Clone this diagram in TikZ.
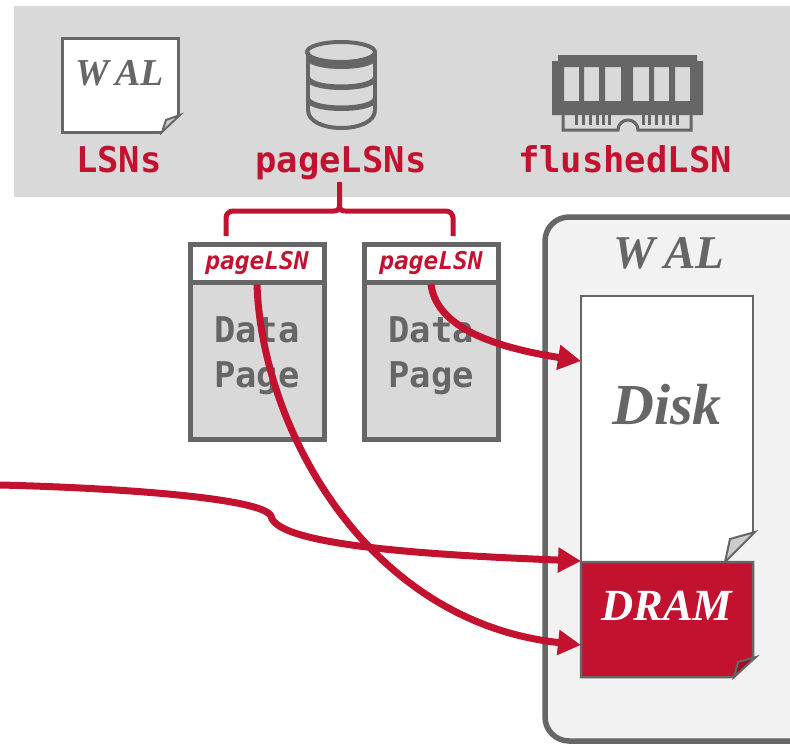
\documentclass[tikz,border=0pt]{standalone}
\usepackage{fontspec}
\usetikzlibrary{arrows.meta}
\setmainfont{Liberation Serif}
\newfontfamily\monob{DejaVu Sans Mono}
\definecolor{crim}{HTML}{C21230}
\definecolor{gline}{HTML}{666666}
\definecolor{gfill}{HTML}{D9D9D9}
\definecolor{panel}{HTML}{F2F2F2}
\definecolor{foldg}{HTML}{CCCCCC}
\definecolor{foldr}{HTML}{9E0E27}
\newcommand{\fsz}[2]{\fontsize{#1}{#2}\selectfont}
\tikzset{
  x=1pt,y=-1pt,
  monolabel/.style={text=crim,font=\monob\bfseries\fsz{35.5}{36},inner sep=0pt,anchor=base},
  walfont/.style={text=gline,font=\bfseries\itshape\fsz{#1}{#1},inner sep=0pt,anchor=base},
  hdrbox/.style={draw=gline,line width=5pt,fill=white,minimum width=134pt,minimum height=38pt,inner sep=0pt,text=crim,
     font=\monob\bfseries\itshape\fsz{24.5}{25}},
  bodybox/.style={draw=gline,line width=5pt,fill=gfill,minimum width=134pt,minimum height=157pt,inner sep=0pt},
  bodytext/.style={text=gline,inner sep=0pt,align=center,font=\monob\bfseries\fsz{35.5}{45}},
  redline/.style={draw=crim,line width=7pt,-{Triangle[length=23pt,width=24pt]}},
  docline/.style={draw=gline,line width=2.5pt,line join=miter},
  dbline/.style={draw=gline,line width=4pt},
  dbband/.style={draw=gline,line width=5.5pt},
}
\begin{document}
\begin{tikzpicture}
\path[use as bounding box,fill=white] (0,0) rectangle (790,744);
\begin{scope}
\clip (0,0) rectangle (790,744);
\fill[gfill] (14,6) rectangle (790,197);
\draw[draw=gline,fill=panel,line width=5.5pt,rounded corners=24pt] (545,217) rectangle (815,741);
\end{scope}

% small WAL document icon
\fill[white] (62,38) -- (177,38) -- (177,115) -- (162,132) -- (62,132) -- cycle;
\draw[docline,line width=3pt] (178,115) -- (178,38) -- (62,38) -- (62,132) -- (162,132);
\draw[docline,fill=foldg,line width=2pt] (162,132) -- (166,120) -- (180,115) -- cycle;
\node[walfont=38] (walsmall) at (120,85) {W\kern6pt AL};

% database icon
\draw[dbline] (341,52) ellipse[x radius=34,y radius=10];
\draw[dbline] (308,52) -- (308,110) (375,52) -- (375,110);
\draw[dbline] (308,110) .. controls (308,134) and (375,134) .. (375,110);
\draw[dbband] (308,58) .. controls (314,69) and (369,69) .. (375,58);
\draw[dbband] (308,79) .. controls (314,90) and (369,90) .. (375,79);
\draw[dbband] (308,100) .. controls (314,111) and (369,111) .. (375,100);

% RAM icon
\fill[gline,even odd rule]
  (552,61) -- (558,61) -- (558,55) -- (697,55) -- (697,61) -- (703,61) -- (703,115) -- (552,115) -- cycle
  (564,67) rectangle (579,101) (584,67) rectangle (599,101) (605,67) rectangle (621,101)
  (633,67) rectangle (649,101) (654,67) rectangle (669,101) (675,67) rectangle (690,101);
\draw[gline,line width=3pt] (563,115) -- (563,130) -- (618,130) arc[start angle=180,end angle=0,x radius=10,y radius=-10] -- (691,130) -- (691,115);
\foreach \tx in {576,583,590,597,603,609,643,649,656,663,670,677}{
  \fill[gline] (\tx-1.5,115) rectangle (\tx+1.5,125);
}

% labels
\node[monolabel] (lsns) at (119,172) {LSNs};
\node[monolabel] (plsns) at (341,172) {pageLSNs};
\node[monolabel] (flsn) at (625,172) {flushedLSN};

% brace
\draw[crim,line width=5pt,rounded corners=7pt] (226,236) -- (226,211) -- (334,211);
\draw[crim,line width=5pt,rounded corners=7pt] (453,236) -- (453,211) -- (345,211);
\draw[crim,line width=5pt] (334,211) .. controls (338,211) and (339.5,209) .. (339.5,205) -- (339.5,182);
\draw[crim,line width=5pt] (345,211) .. controls (341,211) and (339.5,209) .. (339.5,205);

% data pages
\node[bodybox] (body1) at (257,360.5) {};
\node[bodytext] (text1) at (257,355.5) {Data\\Page};
\node[hdrbox] (hdr1) at (257,263) {\raisebox{-2pt}{pageLSN}};
\node[bodybox] (body2) at (431,360.5) {};
\node[bodytext] (text2) at (431,355.5) {Data\\Page};
\node[hdrbox] (hdr2) at (431,263) {\raisebox{-2pt}{pageLSN}};

% WAL panel content
\node[walfont=47] (walbig) at (669,268) {W\kern9pt AL};
\fill[white] (581,296) -- (753,296) -- (753,532) -- (725,562) -- (581,562) -- cycle;
\draw[docline] (753,532) -- (753,296) -- (581,296) -- (581,562);
\node[walfont=58] (disk) at (667,424) {Disk};
\draw[docline,fill=foldg,line width=2pt] (725,562) -- (730,539) -- (755,532) -- cycle;
\filldraw[draw=gline,fill=crim,line width=2.5pt] (581,562) -- (753,562) -- (753,657) -- (734,677) -- (581,677) -- cycle;
\draw[docline,fill=foldr,line width=2pt] (734,677) -- (738,662) -- (756,657) -- cycle;
\node[walfont=44.5,text=white] (dram) at (667,620) {DRAM};

% connectors
\coordinate (diskin) at (581,361);
\coordinate (dramtop) at (581,561);
\coordinate (dramlow) at (581,645);
\coordinate (logsrc) at (0,485);
\draw[redline] (hdr1.south) .. controls (262,430) and (368,622) .. (dramlow);
\draw[redline] (hdr2.south) .. controls (436,322) and (480,345) .. (diskin);
\draw[redline] (logsrc) .. controls (120,488) and (262,498) .. (271,516)
   .. controls (276,548) and (460,556) .. (dramtop);
\end{tikzpicture}
\end{document}
